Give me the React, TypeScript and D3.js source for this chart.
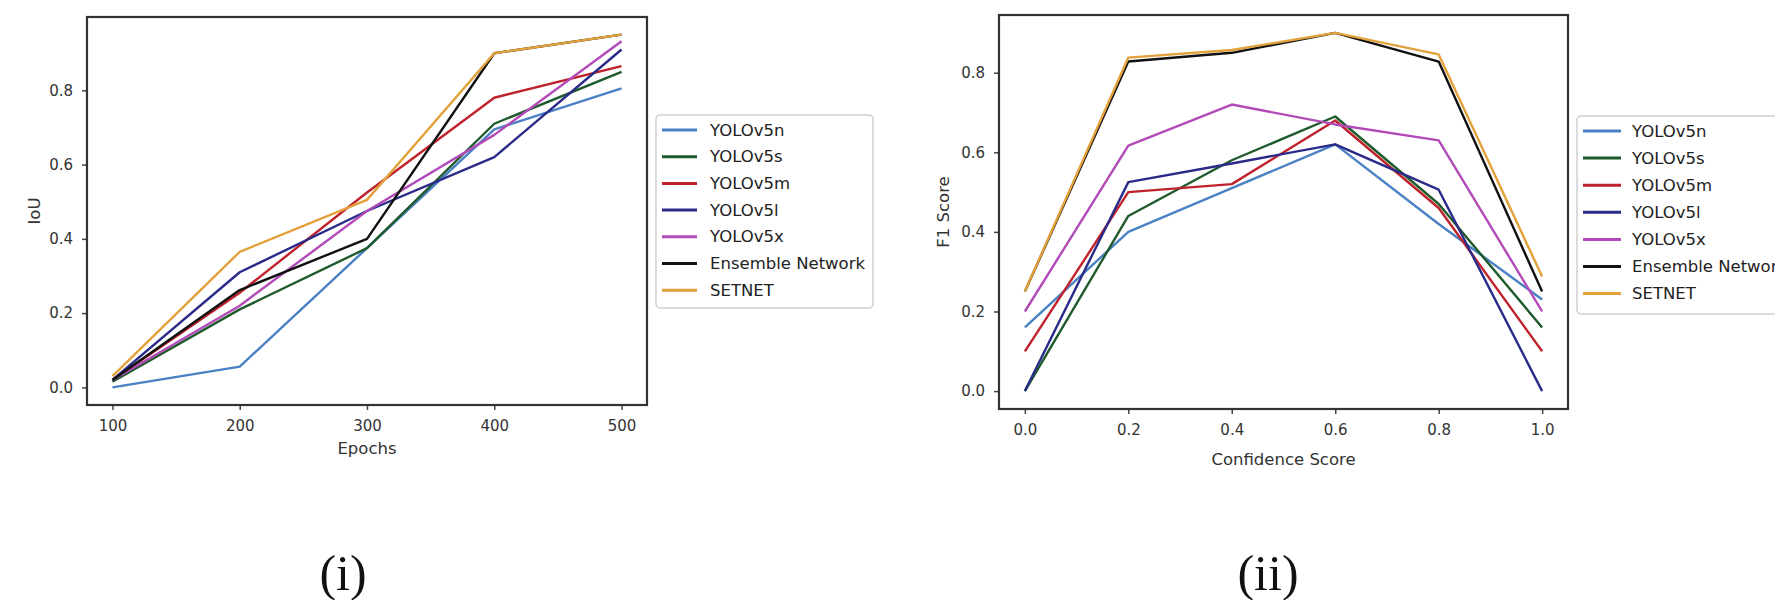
import * as d3 from "d3";
import {useEffect, useRef} from "react";

const modelNames = ["YOLOv5n", "YOLOv5s", "YOLOv5m", "YOLOv5l", "YOLOv5x", "Ensemble Network", "SETNET"];
const lineColors = ["#4a80c4", "#1f5a2c", "#c0222c", "#2a2a88", "#b24ab8", "#111111", "#e3a13c"];

// (i) IoU vs epochs
const epochs = [100, 200, 300, 400, 500];
const iouV5n = [0.0, 0.056, 0.375, 0.695, 0.805];
const iouV5s = [0.015, 0.21, 0.375, 0.71, 0.85];
const iouV5m = [0.02, 0.255, 0.525, 0.78, 0.865];
const iouV5l = [0.02, 0.31, 0.475, 0.62, 0.91];
const iouV5x = [0.02, 0.22, 0.475, 0.68, 0.932];
const iouEnsemble = [0.02, 0.262, 0.40, 0.90, 0.95];
const iouSetnet = [0.03, 0.365, 0.505, 0.90, 0.95];
const iouTicks = [0.0, 0.2, 0.4, 0.6, 0.8];

// (ii) F1 vs confidence
const confidence = [0.0, 0.2, 0.4, 0.6, 0.8, 1.0];
const f1V5n = [0.16, 0.40, 0.51, 0.62, 0.42, 0.23];
const f1V5s = [0.0, 0.44, 0.58, 0.69, 0.47, 0.16];
const f1V5m = [0.10, 0.50, 0.52, 0.68, 0.46, 0.10];
const f1V5l = [0.0, 0.525, 0.572, 0.62, 0.506, 0.0];
const f1V5x = [0.20, 0.617, 0.72, 0.67, 0.63, 0.20];
const f1Ensemble = [0.25, 0.828, 0.85, 0.90, 0.828, 0.25];
const f1Setnet = [0.25, 0.838, 0.857, 0.90, 0.846, 0.288];
const f1Ticks = [0.0, 0.2, 0.4, 0.6, 0.8];

const panels = [
    {
        xs: epochs,
        series: [iouV5n, iouV5s, iouV5m, iouV5l, iouV5x, iouEnsemble, iouSetnet],
        xDomain: [80, 520], yDomain: [-0.0475, 0.9975],
        box: {left: 87, right: 647, top: 17, bottom: 405},
        xTicks: epochs, xFmt: d3.format("d"),
        yTicks: iouTicks,
        xLabel: "Epochs", yLabel: "IoU", xLabelY: 448, yLabelX: 34,
        legend: {x: 656, y: 115, w: 217, h: 193, row: 26.7, line: 35, textX: 710},
        caption: "(i)", captionX: 343,
    },
    {
        xs: confidence,
        series: [f1V5n, f1V5s, f1V5m, f1V5l, f1V5x, f1Ensemble, f1Setnet],
        xDomain: [-0.05, 1.05], yDomain: [-0.045, 0.945],
        box: {left: 999, right: 1568, top: 15, bottom: 409},
        xTicks: confidence, xFmt: d3.format(".1f"),
        yTicks: f1Ticks,
        xLabel: "Confidence Score", yLabel: "F1 Score", xLabelY: 459, yLabelX: 943,
        legend: {x: 1577, y: 116, w: 230, h: 198, row: 27.1, line: 38, textX: 1632},
        caption: "(ii)", captionX: 1268,
    },
];

function App() {
    const svgRef = useRef(null);

    useEffect(() => {
        const svg = d3.select(svgRef.current);
        svg.selectAll("*").remove();
        const font = "'DejaVu Sans', sans-serif";

        panels.forEach(p => {
            const {box} = p;
            const x = d3.scaleLinear().domain(p.xDomain).range([box.left, box.right]);
            const y = d3.scaleLinear().domain(p.yDomain).range([box.bottom, box.top]);
            const g = svg.append("g");

            // ticks
            const xAxis = g.append("g")
                .attr("transform", `translate(0,${box.bottom})`)
                .call(d3.axisBottom(x).tickValues(p.xTicks).tickFormat(p.xFmt).tickSize(5).tickSizeOuter(0).tickPadding(10));
            const yAxis = g.append("g")
                .attr("transform", `translate(${box.left},0)`)
                .call(d3.axisLeft(y).tickValues(p.yTicks).tickFormat(d3.format(".1f")).tickSize(5).tickSizeOuter(0).tickPadding(9));
            [xAxis, yAxis].forEach(a => {
                a.select(".domain").remove();
                a.selectAll("line").attr("stroke", "#444").attr("stroke-width", 1.5);
                a.selectAll("text").attr("fill", "#333").attr("font-family", font).attr("font-size", 15);
            });

            // lines
            const line = d3.line().x((d, i) => x(p.xs[i])).y(d => y(d));
            p.series.forEach((vals, si) => {
                g.append("path")
                    .datum(vals)
                    .attr("d", line)
                    .attr("fill", "none")
                    .attr("stroke", lineColors[si])
                    .attr("stroke-width", 2.4)
                    .attr("stroke-linejoin", "round");
            });

            // frame
            g.append("rect")
                .attr("x", box.left).attr("y", box.top)
                .attr("width", box.right - box.left).attr("height", box.bottom - box.top)
                .attr("fill", "none").attr("stroke", "#333").attr("stroke-width", 2.2);

            // axis labels
            g.append("text")
                .attr("x", (box.left + box.right) / 2).attr("y", p.xLabelY)
                .attr("text-anchor", "middle").attr("dominant-baseline", "central")
                .attr("font-family", font).attr("font-size", 16.5).attr("fill", "#333")
                .text(p.xLabel);
            g.append("text")
                .attr("transform", `translate(${p.yLabelX},${(box.top + box.bottom) / 2}) rotate(-90)`)
                .attr("text-anchor", "middle").attr("dominant-baseline", "central")
                .attr("font-family", font).attr("font-size", 16.5).attr("fill", "#333")
                .text(p.yLabel);

            // legend
            const L = p.legend;
            g.append("rect")
                .attr("x", L.x).attr("y", L.y).attr("width", L.w).attr("height", L.h)
                .attr("rx", 4).attr("fill", "#fff").attr("stroke", "#cfcfcf").attr("stroke-width", 1.5);
            modelNames.forEach((name, i) => {
                const ry = L.y + 15 + i * L.row;
                g.append("line")
                    .attr("x1", L.x + 6).attr("x2", L.x + 6 + L.line)
                    .attr("y1", ry).attr("y2", ry)
                    .attr("stroke", lineColors[i]).attr("stroke-width", 3);
                g.append("text")
                    .attr("x", L.textX).attr("y", ry)
                    .attr("dominant-baseline", "central")
                    .attr("font-family", font).attr("font-size", 16.5).attr("fill", "#222")
                    .text(name);
            });

            // caption
            g.append("text")
                .attr("x", p.captionX).attr("y", 590)
                .attr("text-anchor", "middle")
                .attr("font-family", "'Liberation Serif', 'Times New Roman', serif")
                .attr("font-size", 50).attr("fill", "#111")
                .text(p.caption);
        });
    }, []);

    return (
        <div style={{position: "absolute", left: 0, top: 0}}>
            <svg ref={svgRef} width={1775} height={600} style={{display: "block", background: "#fff"}}/>
        </div>
    );
}

export default App;
